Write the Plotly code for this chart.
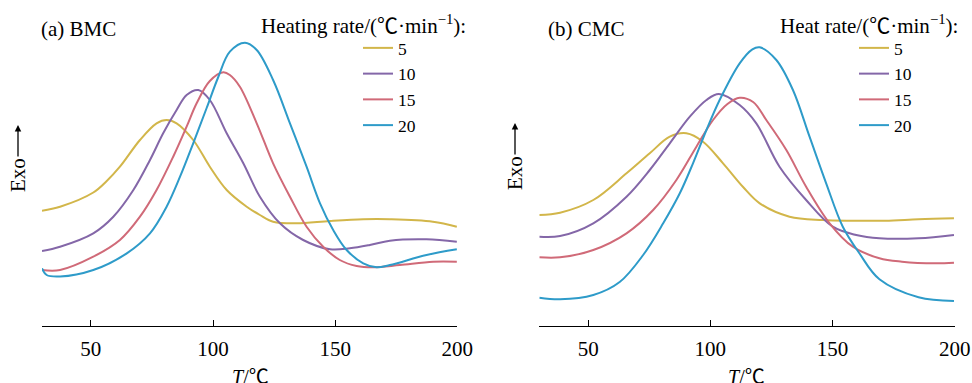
import plotly.graph_objects as go

# ---------------- data ----------------
rates = ["5", "10", "15", "20"]
colors = ["#d2b64a", "#8467a8", "#d06a78", "#2e9bc9"]

# (a) BMC
bmc_x_5 = [30.0, 37.4, 51.0, 56.5, 61.9, 70.1, 76.9, 81.0, 85.1, 91.9, 98.7, 105.6, 113.8, 119.2, 124.6, 134.2, 147.8, 161.5, 172.4, 190.0, 199.8]
bmc_y_5 = [115.3, 119.3, 133.5, 145, 159.3, 186, 202.7, 206, 202.7, 186, 159.3, 136, 119.3, 111, 104.3, 102.7, 105, 106.7, 106.7, 104.3, 99.3]

bmc_x_10 = [30.0, 37.4, 51.0, 59.2, 67.4, 74.2, 79.6, 85.1, 89.2, 94.0, 98.7, 105.6, 112.4, 119.2, 127.4, 136.9, 147.9, 156.0, 164.2, 172.4, 187.4, 199.8]
bmc_y_10 = [75, 79.3, 92.7, 109.3, 136, 166, 192.7, 216, 231, 236, 226, 192.7, 162.7, 129.3, 102.7, 86, 76.7, 77.7, 81, 85.3, 86.7, 84.3]

bmc_x_15 = [30.0, 37.4, 51.0, 61.9, 70.1, 76.9, 83.7, 89.2, 93.3, 98.7, 104.2, 106.9, 111.0, 117.9, 124.6, 131.5, 138.3, 145.1, 151.9, 158.8, 165.6, 176.5, 190.1, 199.8]
bmc_y_15 = [56, 56, 69.3, 86, 109.3, 136, 169.3, 199.3, 222.7, 245, 253.7, 251, 239.3, 202.7, 162.7, 129.3, 99.3, 79.3, 66, 60, 58.7, 61, 64.3, 64.3]

bmc_x_20 = [30.0, 31.9, 37.4, 51.0, 64.7, 74.2, 81.0, 86.5, 91.9, 97.4, 102.0, 106.9, 113.1, 117.9, 124.6, 131.5, 138.3, 143.8, 149.2, 154.7, 161.5, 167.0, 172.4, 187.4, 199.8]
bmc_y_20 = [57.7, 51, 49.5, 56, 72.7, 92.7, 119.3, 149.3, 182.7, 218, 248, 274.3, 283.3, 276, 246, 202.7, 159.3, 122.7, 96, 76, 62.7, 58.7, 61, 71, 76.7]

# (b) CMC
cmc_x_5 = [30.0, 38.5, 52.1, 65.7, 75.2, 83.4, 90.2, 97.0, 105.2, 113.3, 120.2, 132.4, 146.0, 158.0, 171.6, 185.2, 199.7]
cmc_y_5 = [111, 113.3, 126, 152.7, 172.7, 189.3, 192.7, 184.3, 162.7, 139.3, 122.7, 109.3, 106, 105.3, 105.3, 106.7, 107.7]

cmc_x_10 = [30.0, 38.5, 52.1, 65.7, 75.2, 83.4, 91.6, 98.4, 103.5, 112.0, 118.8, 128.3, 139.2, 150.1, 159.7, 169.2, 185.2, 199.7]
cmc_y_10 = [89.3, 90, 102.7, 129.3, 156, 182.7, 209.3, 226, 232, 221, 202.7, 159.3, 126, 99.3, 91, 87.7, 87.7, 91]

cmc_x_15 = [30.0, 38.5, 52.1, 65.7, 76.6, 86.1, 94.3, 101.1, 107.0, 112.0, 117.5, 122.9, 131.1, 139.2, 148.8, 158.3, 169.2, 178.4, 192.1, 199.7]
cmc_y_15 = [68.7, 68.7, 76, 92.7, 116, 146, 179.3, 206, 222, 228.3, 224, 206, 176, 139.3, 102.7, 79.3, 67.7, 64.3, 62.7, 63.3]

cmc_x_20 = [30.0, 38.5, 52.1, 62.9, 72.5, 80.7, 87.5, 92.9, 98.4, 103.8, 112.0, 117.2, 120.2, 127.0, 133.8, 140.6, 147.4, 154.2, 161.0, 169.2, 185.2, 199.7]
cmc_y_20 = [28.3, 26.7, 31, 44, 71, 102.7, 132.7, 162.7, 196, 226, 262.7, 276.7, 278.7, 266, 236, 189.3, 142.7, 99.3, 72.7, 46.7, 28.7, 25]

x_ticks = [50, 100, 150, 200]
x_range = [30, 200]
y_range = [0, 326]

bmc_x = [bmc_x_5, bmc_x_10, bmc_x_15, bmc_x_20]
bmc_y = [bmc_y_5, bmc_y_10, bmc_y_15, bmc_y_20]
cmc_x = [cmc_x_5, cmc_x_10, cmc_x_15, cmc_x_20]
cmc_y = [cmc_y_5, cmc_y_10, cmc_y_15, cmc_y_20]

# ---------------- layout ----------------
W, H = 972, 383
PLOT_BOTTOM = 326  # px of the x axis line


def fx(x):
    return x / W


def fy(y):
    return 1 - y / PLOT_BOTTOM


FONT = "Liberation Serif"
CEL = '<span style="font-family:\'Noto Sans CJK SC\'">℃</span>'

fig = go.Figure()
for i in range(4):
    fig.add_trace(go.Scatter(x=bmc_x[i], y=bmc_y[i], mode="lines", name=rates[i],
                             line=dict(color=colors[i], width=2, shape="spline", smoothing=1.0),
                             xaxis="x", yaxis="y", legend="legend"))
for i in range(4):
    fig.add_trace(go.Scatter(x=cmc_x[i], y=cmc_y[i], mode="lines", name=rates[i],
                             line=dict(color=colors[i], width=2, shape="spline", smoothing=1.0),
                             xaxis="x2", yaxis="y2", legend="legend2"))

xax = dict(range=x_range, showline=True, linecolor="black", linewidth=1.3,
           ticks="inside", ticklen=6, tickwidth=1.2, tickcolor="black",
           tickvals=x_ticks, showgrid=False, zeroline=False, ticklabelstandoff=4,
           automargin=False,
           tickfont=dict(family=FONT, size=21, color="black"))
yax = dict(range=y_range, visible=False, showgrid=False, zeroline=False, automargin=False)

leg = dict(font=dict(family=FONT, size=17.5, color="black"), bgcolor="rgba(0,0,0,0)",
           tracegroupgap=0, yanchor="top", xanchor="left")

lab = dict(family=FONT, size=21, color="black")
xlab = dict(family=FONT, size=20, color="black")

fig.update_layout(
    width=W, height=H,
    margin=dict(l=0, r=0, t=0, b=H - PLOT_BOTTOM, autoexpand=False),
    plot_bgcolor="white", paper_bgcolor="white",
    xaxis=dict(domain=[fx(42), fx(457.3)], anchor="y", **xax),
    yaxis=dict(domain=[0, 1], anchor="x", **yax),
    xaxis2=dict(domain=[fx(539.3), fx(954.7)], anchor="y2", **xax),
    yaxis2=dict(domain=[0, 1], anchor="x2", **yax),
    legend=dict(x=fx(358), y=fy(30), **leg),
    legend2=dict(x=fx(854), y=fy(30), **leg),
    annotations=[
        dict(text="(a) BMC", x=fx(38.5), y=fy(29), xref="paper", yref="paper",
             xanchor="left", yanchor="middle", showarrow=False, font=lab),
        dict(text="(b) CMC", x=fx(545.5), y=fy(29), xref="paper", yref="paper",
             xanchor="left", yanchor="middle", showarrow=False, font=lab),
        dict(text="Heating rate/(" + CEL + "·min<sup>−1</sup>):", x=fx(468), y=fy(24),
             xref="paper", yref="paper", xanchor="right", yanchor="middle", showarrow=False, font=lab),
        dict(text="Heat rate/(" + CEL + "·min<sup>−1</sup>):", x=fx(960), y=fy(24),
             xref="paper", yref="paper", xanchor="right", yanchor="middle", showarrow=False, font=lab),
        dict(text="<i>T</i>/" + CEL, x=fx(250), y=fy(375), xref="paper", yref="paper",
             xanchor="center", yanchor="middle", showarrow=False, font=xlab),
        dict(text="<i>T</i>/" + CEL, x=fx(746), y=fy(375), xref="paper", yref="paper",
             xanchor="center", yanchor="middle", showarrow=False, font=xlab),
        dict(text="Exo", x=fx(18), y=fy(125), xref="paper", yref="paper", textangle=-90,
             showarrow=True, ax=0, ay=50, arrowhead=2, arrowsize=1, arrowwidth=1.3,
             arrowcolor="black", standoff=0, font=dict(family=FONT, size=21, color="black")),
        dict(text="Exo", x=fx(515), y=fy(123), xref="paper", yref="paper", textangle=-90,
             showarrow=True, ax=0, ay=50, arrowhead=2, arrowsize=1, arrowwidth=1.3,
             arrowcolor="black", standoff=0, font=dict(family=FONT, size=21, color="black")),
    ],
)

fig.write_html("out.html")
